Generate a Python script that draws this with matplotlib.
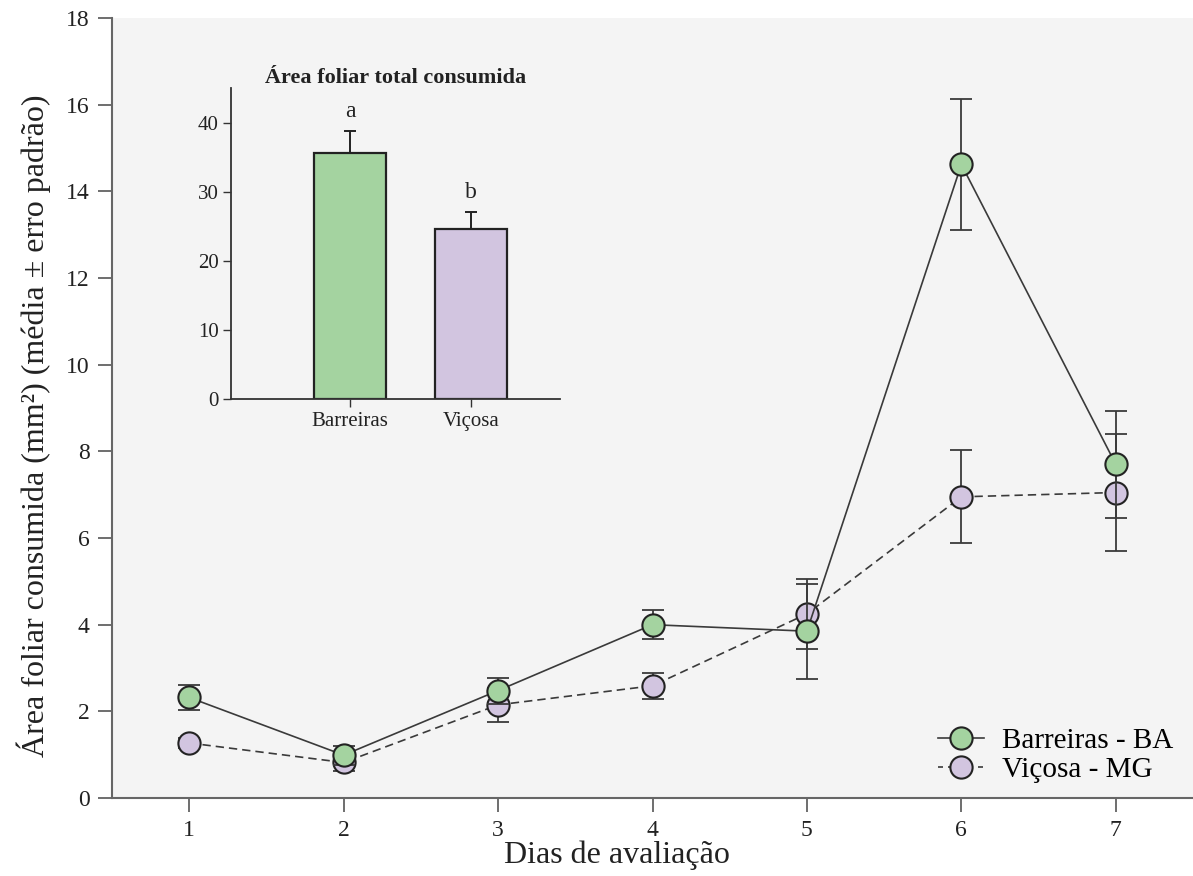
import matplotlib
matplotlib.use('Agg')
import matplotlib.pyplot as plt
from matplotlib.lines import Line2D

plt.rcParams['font.family'] = ['Liberation Serif', 'DejaVu Serif']

dias = [1, 2, 3, 4, 5, 6, 7]

barreiras = [2.32, 0.99, 2.48, 4.0, 3.85, 14.62, 7.70]
barreiras_ep = [0.28, 0.22, 0.30, 0.34, 1.10, 1.52, 1.23]

vicosa = [1.27, 0.82, 2.15, 2.59, 4.25, 6.95, 7.05]
vicosa_ep = [0.12, 0.20, 0.40, 0.30, 0.80, 1.07, 1.35]

locais = ['Barreiras', 'Viçosa']
total = [35.6, 24.6]
total_ep = [3.2, 2.4]
letras = ['a', 'b']

verde = '#a4d3a0'
lilas = '#d2c5e0'
fundo = '#f4f4f4'
tinta = '#3a3a3a'

fig = plt.figure(figsize=(11.93, 8.76), dpi=100)
ax = fig.add_axes([0.0939, 0.089, 0.9061, 0.8905])
ax.set_facecolor(fundo)

# Viçosa first so the Barreiras circles sit on top where they overlap
ax.errorbar(dias, vicosa, yerr=vicosa_ep, fmt='none', ecolor=tinta,
            elinewidth=1.3, capsize=8, capthick=1.3, zorder=2)
ax.plot(dias, vicosa, color=tinta, lw=1.2, ls=(0, (5, 3)), marker='o',
        ms=16, mfc=lilas, mec='#222222', mew=1.5, zorder=3)
ax.errorbar(dias, barreiras, yerr=barreiras_ep, fmt='none', ecolor=tinta,
            elinewidth=1.3, capsize=8, capthick=1.3, zorder=4)
ax.plot(dias, barreiras, color=tinta, lw=1.2, marker='o',
        ms=16, mfc=verde, mec='#222222', mew=1.5, zorder=5)

ax.set_xlim(0.5, 7.5)
ax.set_ylim(0, 18)
ax.set_xticks(dias)
ax.set_yticks(range(0, 19, 2))
ax.tick_params(labelsize=17, length=10, width=1.2, color='#555555',
               labelcolor='#222222', pad=6)
for lado in ['top', 'right']:
    ax.spines[lado].set_visible(False)
for lado in ['left', 'bottom']:
    ax.spines[lado].set_color('#666666')
    ax.spines[lado].set_linewidth(1.5)

ax.set_xlabel('Dias de avaliação', fontsize=23, color='#222222')
ax.xaxis.set_label_coords(0.467, -0.054)
ax.set_ylabel('Área foliar consumida (mm²) (média ± erro padrão)',
              fontsize=23, color='#222222')
ax.yaxis.set_label_coords(-0.056, 0.477)

itens = [
    Line2D([], [], color=tinta, lw=1.2, marker='o', ms=16, mfc=verde,
           mec='#222222', mew=1.5),
    Line2D([], [], color=tinta, lw=1.2, ls=(0, (3, 3)), marker='o', ms=16,
           mfc=lilas, mec='#222222', mew=1.5),
]
ax.legend(itens, ['Barreiras - BA', 'Viçosa - MG'], loc='lower right',
          frameon=False, fontsize=21, handlelength=1.6, handletextpad=0.6,
          labelspacing=0.1, borderaxespad=0.1,
          bbox_to_anchor=(0.995, 0.0))

# inset with the total consumed area per origin
ins = fig.add_axes([0.1936, 0.5445, 0.2758, 0.355])
ins.patch.set_alpha(0)
ins.bar([0, 1], total, width=0.6, color=[verde, lilas],
        edgecolor='#222222', linewidth=1.6, zorder=2)
ins.errorbar([0, 1], total, yerr=[[0, 0], total_ep], fmt='none',
             ecolor='#222222', elinewidth=1.4, capsize=4, capthick=1.4,
             zorder=1)
for i, (v, e, letra) in enumerate(zip(total, total_ep, letras)):
    ins.text(i, v + e + 1.3, letra, ha='center', va='bottom', fontsize=17,
             color='#222222')
ins.set_xlim(-0.99, 1.74)
ins.set_ylim(0, 45)
ins.set_xticks([0, 1])
ins.set_xticklabels(locais)
ins.set_yticks(range(0, 41, 10))
ins.tick_params(labelsize=15, length=6, width=1.0, color='#333333',
                labelcolor='#222222', pad=3)
for lado in ['top', 'right']:
    ins.spines[lado].set_visible(False)
for lado in ['left', 'bottom']:
    ins.spines[lado].set_color('#333333')
    ins.spines[lado].set_linewidth(1.3)
ins.set_title('Área foliar total consumida', fontsize=16, fontweight='bold',
              color='#222222', pad=0)

fig.savefig('out.png', dpi=100, facecolor='white')
